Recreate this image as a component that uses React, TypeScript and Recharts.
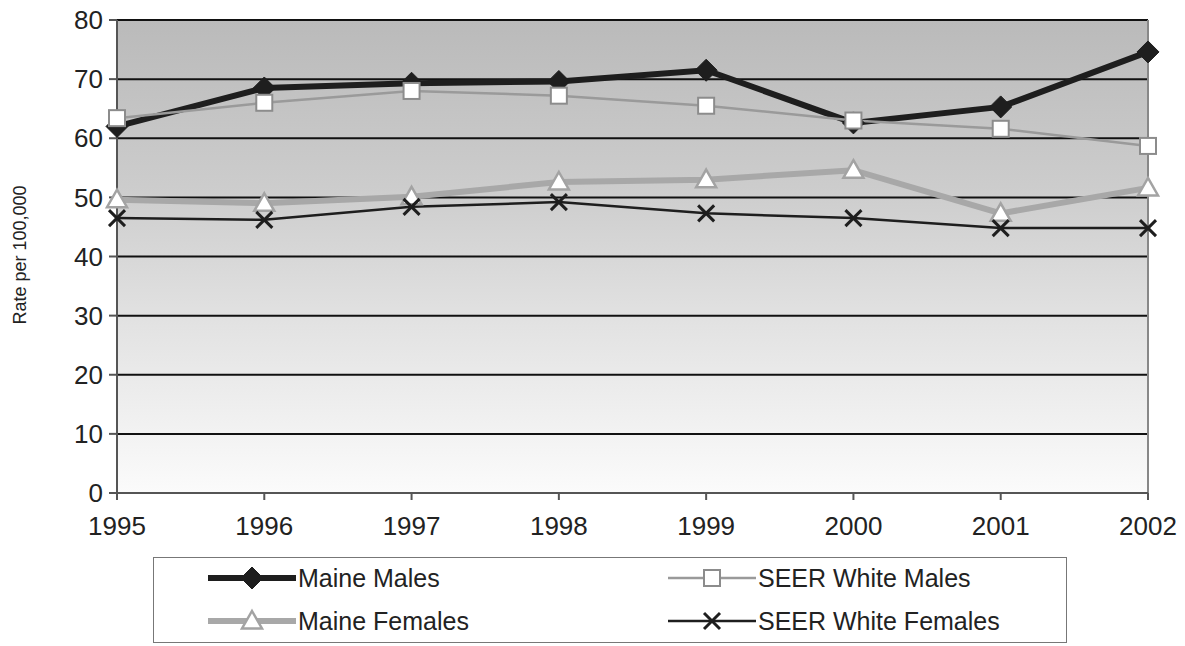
import React from 'react';
import { LineChart, Line, XAxis, YAxis, CartesianGrid, ReferenceLine } from 'recharts';

const years = ['1995', '1996', '1997', '1998', '1999', '2000', '2001', '2002'];
const maineMales = [62.0, 68.5, 69.3, 69.6, 71.5, 62.6, 65.3, 74.6];
const seerWhiteMales = [63.4, 66.0, 68.0, 67.2, 65.5, 63.0, 61.6, 58.7];
const maineFemales = [49.6, 49.0, 50.1, 52.6, 53.0, 54.6, 47.3, 51.6];
const seerWhiteFemales = [46.5, 46.2, 48.4, 49.2, 47.3, 46.5, 44.8, 44.8];
const yTicks = [0, 10, 20, 30, 40, 50, 60, 70, 80];

const data = years.map((year, i) => ({
  year,
  maineMales: maineMales[i],
  seerWhiteMales: seerWhiteMales[i],
  maineFemales: maineFemales[i],
  seerWhiteFemales: seerWhiteFemales[i],
}));

const FONT = '"Liberation Sans", Arial, sans-serif';

type MarkerKind = 'diamond' | 'square' | 'triangle' | 'cross';

const Marker = ({ kind, cx, cy }: { kind: MarkerKind; cx: number; cy: number }) => {
  if (kind === 'diamond') {
    const r = 11;
    return <polygon points={`${cx},${cy - r} ${cx + r},${cy} ${cx},${cy + r} ${cx - r},${cy}`} fill="#1e1e1e" stroke="#1e1e1e" strokeWidth={1} />;
  }
  if (kind === 'square') {
    const r = 8;
    return <rect x={cx - r} y={cy - r} width={2 * r} height={2 * r} fill="#fff" stroke="#8c8c8c" strokeWidth={2} />;
  }
  if (kind === 'triangle') {
    const r = 10;
    return <polygon points={`${cx},${cy - r} ${cx + r},${cy + r * 0.75} ${cx - r},${cy + r * 0.75}`} fill="#fff" stroke="#a3a3a3" strokeWidth={2.5} />;
  }
  const r = 8;
  return (
    <g stroke="#1e1e1e" strokeWidth={3}>
      <line x1={cx - r} y1={cy - r} x2={cx + r} y2={cy + r} />
      <line x1={cx - r} y1={cy + r} x2={cx + r} y2={cy - r} />
    </g>
  );
};

const series = [
  { key: 'maineMales', name: 'Maine Males', stroke: '#1e1e1e', width: 6, marker: 'diamond' as MarkerKind },
  { key: 'seerWhiteMales', name: 'SEER White Males', stroke: '#9a9a9a', width: 2.5, marker: 'square' as MarkerKind },
  { key: 'maineFemales', name: 'Maine Females', stroke: '#a8a8a8', width: 6, marker: 'triangle' as MarkerKind },
  { key: 'seerWhiteFemales', name: 'SEER White Females', stroke: '#1e1e1e', width: 2.5, marker: 'cross' as MarkerKind },
];

const makeDot = (kind: MarkerKind) => (props: any) => {
  const { cx, cy, index } = props;
  if (cx == null || cy == null) return <g key={index} />;
  return <Marker key={index} kind={kind} cx={cx} cy={cy} />;
};

const LegendItem = ({ s, left, top }: { s: (typeof series)[number]; left: number; top: number }) => (
  <div style={{ position: 'absolute', left, top, display: 'flex', alignItems: 'center', height: 30 }}>
    <svg width={88} height={30}>
      <line x1={0} y1={15} x2={88} y2={15} stroke={s.stroke} strokeWidth={s.width} />
      <Marker kind={s.marker} cx={44} cy={15} />
    </svg>
    <span style={{ fontFamily: FONT, fontSize: 25, color: '#222', marginLeft: 2 }}>{s.name}</span>
  </div>
);

export default function App() {
  return (
    <div style={{ position: 'absolute', left: 0, top: 0, width: 1185, height: 646, background: '#fff', overflow: 'hidden' }}>
      <div
        style={{ position: 'absolute', left: 560, top: -22, width: 130, textAlign: 'center', fontFamily: FONT, fontWeight: 'bold', fontSize: 24, color: '#222' }}
      >
        1995-2002
      </div>
      <div
        style={{
          position: 'absolute',
          left: 20,
          top: 255,
          transform: 'translate(-50%, -50%) rotate(-90deg)',
          fontFamily: FONT,
          fontSize: 18,
          color: '#222',
          whiteSpace: 'nowrap',
        }}
      >
        Rate per 100,000
      </div>
      <LineChart width={1185} height={646} data={data} margin={{ top: 20, right: 37, bottom: 93, left: 0 }} style={{ position: 'absolute', left: 0, top: 0 }}>
        <defs>
          <linearGradient id="plotBg" x1="0" y1="0" x2="0" y2="1">
            <stop offset="0%" stopColor="#bababa" />
            <stop offset="35%" stopColor="#cccccc" />
            <stop offset="65%" stopColor="#e3e3e3" />
            <stop offset="100%" stopColor="#fbfbfb" />
          </linearGradient>
        </defs>
        <CartesianGrid vertical={false} fill="url(#plotBg)" stroke="#111" strokeWidth={2} />
        <XAxis
          dataKey="year"
          scale="point"
          padding={{ left: 0, right: 0 }}
          height={60}
          stroke="#555"
          strokeWidth={2}
          tickSize={7}
          tickMargin={17}
          tick={{ fill: '#222', fontFamily: FONT, fontSize: 26 }}
        />
        <YAxis
          domain={[0, 80]}
          ticks={yTicks}
          width={117}
          stroke="#555"
          strokeWidth={2}
          tickSize={8}
          tickMargin={6}
          tick={{ fill: '#222', fontFamily: FONT, fontSize: 26 }}
        />
        <ReferenceLine x="2002" stroke="#888" strokeWidth={2} />
        {series.map((s) => (
          <Line
            key={s.key}
            dataKey={s.key}
            name={s.name}
            type="linear"
            stroke={s.stroke}
            strokeWidth={s.width}
            dot={makeDot(s.marker)}
            activeDot={false}
            isAnimationActive={false}
          />
        ))}
      </LineChart>
      <div style={{ position: 'absolute', left: 153, top: 557, width: 914, height: 86, border: '1.5px solid #777', boxSizing: 'border-box' }} />
      <LegendItem s={series[0]} left={208} top={563} />
      <LegendItem s={series[1]} left={668} top={563} />
      <LegendItem s={series[2]} left={208} top={606} />
      <LegendItem s={series[3]} left={668} top={606} />
    </div>
  );
}
